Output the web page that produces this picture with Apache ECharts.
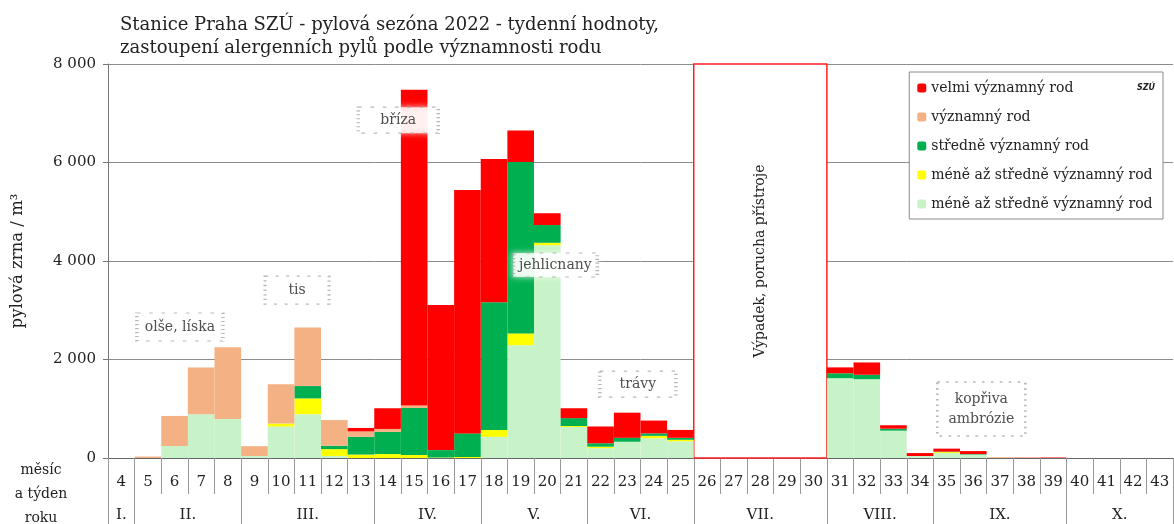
<!DOCTYPE html>
<html>
<head>
<meta charset="utf-8">
<script src="https://cdn.jsdelivr.net/npm/echarts@6/dist/echarts.min.js"></script>
<style>
  html, body { margin: 0; padding: 0; background: #fff; }
  #chart { width: 1174px; height: 524px; }
</style>
</head>
<body>
<div id="chart"></div>
<script>
// tydny 4 - 43
const weeks = ['4','5','6','7','8','9','10','11','12','13','14','15','16','17','18','19','20','21','22','23',
  '24','25','26','27','28','29','30','31','32','33','34','35','36','37','38','39','40','41','42','43'];

// mesice a jejich prvni / posledni tyden
const monthNames = ['I.','II.','III.','IV.','V.','VI.','VII.','VIII.','IX.','X.'];
const monthFirstWeek = [4, 5, 9, 14, 18, 22, 26, 31, 35, 40];
const monthLastWeek = [4, 8, 13, 17, 21, 25, 30, 34, 39, 43];

// hodnoty (pylova zrna / m3) po tydnech
const meneVyznamny2 = [0,0,244,890,790,40,640,890,40,0,0,0,0,0,430,2290,4320,630,200,330,
  400,340,0,0,0,0,0,1620,1600,555,40,100,70,5,5,0,0,0,0,0];
const meneVyznamny = [0,0,0,0,0,0,60,320,140,70,80,60,10,20,140,240,50,20,30,0,
  50,30,0,0,0,0,0,0,0,0,0,20,0,0,0,0,0,0,0,0];
const stredneVyznamny = [0,0,0,0,0,0,0,250,70,360,450,955,150,480,2590,3480,360,160,70,80,
  50,40,0,0,0,0,0,100,90,40,0,10,10,0,0,0,0,0,0,0];
const vyznamny = [0,30,610,950,1460,200,800,1190,520,110,60,50,0,0,0,0,0,0,0,0,
  0,0,0,0,0,0,0,0,0,0,0,0,0,15,5,0,0,0,0,0];
const velmiVyznamny = [0,0,0,0,0,0,0,0,0,70,420,6410,2946,4940,2910,640,240,200,340,510,
  260,160,0,0,0,0,0,120,250,70,60,60,60,0,5,10,0,0,0,0];

// popisky v grafu: [tyden, hodnota, text]
const notes = [
  [6.2, 2660, 'olše, líska'],
  [10.6, 3410, 'tis'],
  [14.4, 6860, 'bříza'],
  [20.3, 3920, 'jehlicnany'],
  [23.4, 1500, 'trávy'],
  [36.3, 995, 'kopřiva\nambrózie']
];
const noteSizes = [[86, 28], [64, 28], [80, 26], [84, 24], [76, 26], [88, 54]];

const outage = [25.5, 30.5];
const outageText = 'Výpadek, porucha přístroje';

const serif = '"DejaVu Serif", "Liberation Serif", serif';
const txt = '#222';

// hranice a stredy mesicu na tydenni ose
const monthEdges = [monthFirstWeek[0] - 0.5].concat(monthLastWeek.map(w => w + 0.5));
const monthCenters = monthFirstWeek.map((w, i) => (w + monthLastWeek[i]) / 2);

const chart = echarts.init(document.getElementById('chart'));

const barSeries = (name, data, color) => ({
  name: name,
  type: 'bar',
  stack: 'pyl',
  xAxisIndex: 0,
  yAxisIndex: 0,
  barCategoryGap: '0%',
  data: data,
  itemStyle: { color: color },
  emphasis: { disabled: true }
});

chart.setOption({
  animation: false,
  textStyle: { fontFamily: serif },
  title: {
    text: 'Stanice Praha SZÚ - pylová sezóna 2022 - tydenní hodnoty,\nzastoupení alergenních pylů podle významnosti rodu',
    left: 115,
    top: 9,
    textStyle: { fontFamily: serif, fontSize: 18, fontWeight: 'normal', color: txt, lineHeight: 23 }
  },
  legend: {
    orient: 'vertical',
    right: 11,
    top: 72,
    itemWidth: 9,
    itemHeight: 9,
    itemGap: 15,
    padding: [9, 6, 8, 8],
    backgroundColor: '#fff',
    borderColor: '#8a8a8a',
    borderWidth: 1,
    selectedMode: false,
    textStyle: { fontFamily: serif, fontSize: 14, color: txt },
    data: ['velmi významný rod', 'významný rod', 'středně významný rod',
      'méně až středně významný rod', 'méně až středně významný rod ']
  },
  grid: { left: 108, right: 1, top: 64, bottom: 66, outerBoundsMode: 'none' },
  xAxis: [
    {
      type: 'category',
      data: weeks,
      position: 'bottom',
      axisLine: { lineStyle: { color: '#666', width: 1 } },
      axisTick: { show: true, interval: 0, length: 36, lineStyle: { color: '#999' } },
      axisLabel: { interval: 0, margin: 17, fontFamily: serif, fontSize: 15, color: txt },
      splitLine: { show: false }
    },
    {
      type: 'value',
      min: monthEdges[0],
      max: monthEdges[monthEdges.length - 1],
      position: 'bottom',
      offset: 36,
      axisLine: { show: false },
      splitLine: { show: false },
      axisTick: { show: true, customValues: monthEdges, length: 30, lineStyle: { color: '#999' } },
      axisLabel: {
        customValues: monthCenters,
        margin: 14,
        fontFamily: serif,
        fontSize: 15,
        color: txt,
        formatter: v => monthNames[monthCenters.indexOf(v)] || ''
      },
      name: 'měsíc\na týden\nroku',
      nameLocation: 'start',
      nameGap: 67,
      nameTextStyle: { fontFamily: serif, fontSize: 14, color: txt, align: 'center', lineHeight: 24 }
    }
  ],
  yAxis: {
    type: 'value',
    min: 0,
    max: 8000,
    interval: 2000,
    name: 'pylová zrna / m³',
    nameLocation: 'middle',
    nameGap: 82,
    nameTextStyle: { fontFamily: serif, fontSize: 16.5, color: txt },
    axisLine: { show: true, lineStyle: { color: '#777' } },
    axisTick: { show: true, length: 5, lineStyle: { color: '#777' } },
    axisLabel: {
      margin: 12,
      fontFamily: serif,
      fontSize: 15,
      color: txt,
      formatter: v => v === 0 ? '0' : (v / 1000) + ' 000'
    },
    splitLine: { lineStyle: { color: '#8c8c8c', width: 1 } }
  },
  series: [
    barSeries('méně až středně významný rod ', meneVyznamny2, '#c8f3c8'),
    barSeries('méně až středně významný rod', meneVyznamny, '#ffff00'),
    barSeries('středně významný rod', stredneVyznamny, '#00b050'),
    barSeries('významný rod', vyznamny, '#f4b183'),
    barSeries('velmi významný rod', velmiVyznamny, '#ff0000'),
    {
      name: 'popisky',
      type: 'scatter',
      xAxisIndex: 1,
      yAxisIndex: 0,
      z: 10,
      symbol: 'rect',
      symbolSize: (val, p) => noteSizes[p.dataIndex],
      data: notes.map(n => ({ value: [n[0], n[1]], name: n[2] })),
      itemStyle: {
        color: '#fff',
        borderColor: '#a5a5a5',
        borderWidth: 2,
        borderType: [2, 5],
        shadowColor: 'rgba(255,255,255,0.9)',
        shadowBlur: 6
      },
      label: {
        show: true,
        position: 'inside',
        formatter: '{b}',
        fontFamily: serif,
        fontSize: 14,
        lineHeight: 20,
        color: txt
      },
      emphasis: { disabled: true },
      markArea: {
        silent: true,
        itemStyle: { color: '#fff', borderColor: '#ff2020', borderWidth: 1.5 },
        label: {
          show: true,
          position: 'inside',
          rotate: 90,
          fontFamily: serif,
          fontSize: 14,
          color: txt
        },
        data: [[
          { name: outageText, coord: [outage[0], 0] },
          { coord: [outage[1], 8000] }
        ]]
      }
    }
  ],
  graphic: [
    {
      type: 'text',
      right: 19,
      top: 84,
      z: 100,
      style: { text: 'SZÚ', fontFamily: 'DejaVu Sans', fontSize: 8, fontWeight: 'bold', fontStyle: 'italic', fill: '#222' }
    }
  ]
});
</script>
</body>
</html>
